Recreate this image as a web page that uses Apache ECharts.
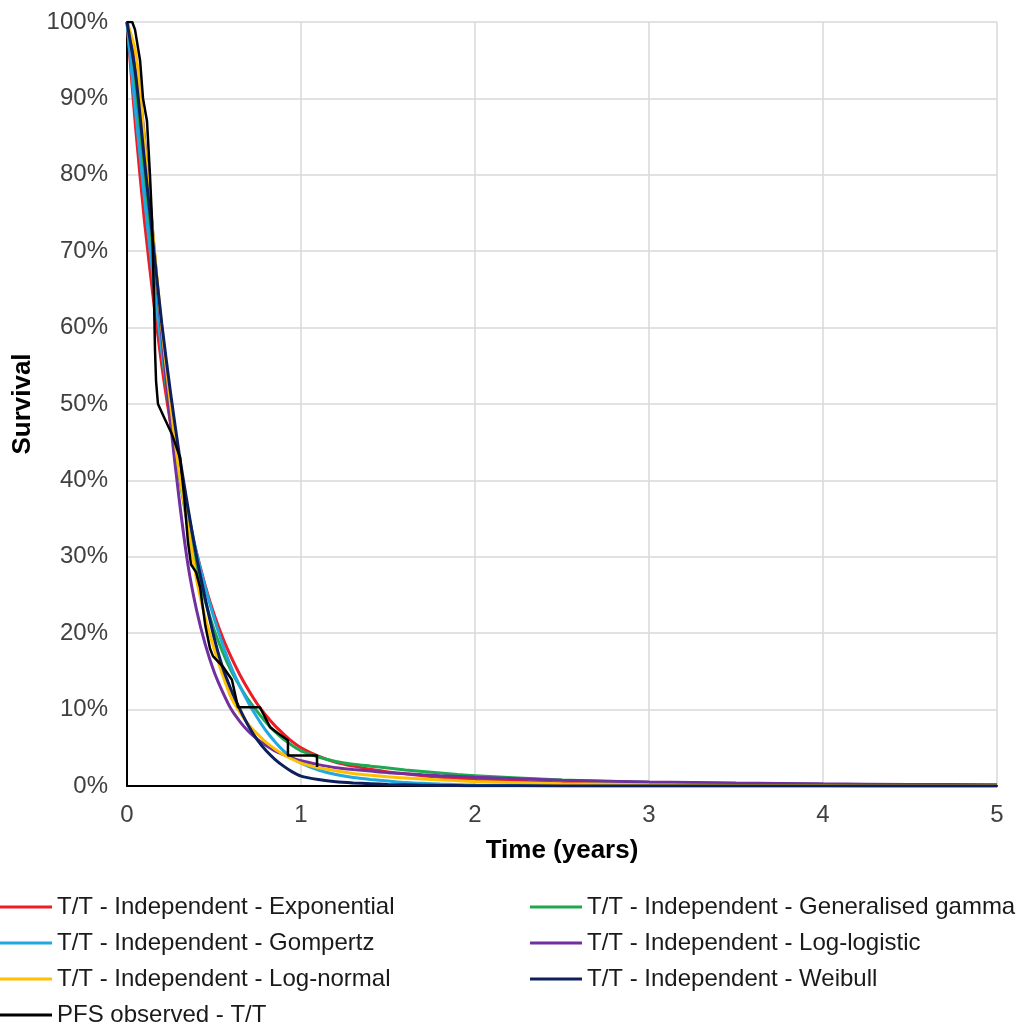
<!DOCTYPE html>
<html lang="en">
<head>
	<meta charset="UTF-8">
	<title>PFS survival curves - T/T</title>
	<style>
		html, body { margin: 0; padding: 0; background: #fff; }
	</style>
</head>
<body>
	<div id="main" style="width: 1021px;height: 1030px"></div>
	<script src="https://cdn.jsdelivr.net/npm/echarts@6/dist/echarts.min.js"></script>
	<script>
		// time grid (years) shared by the fitted curves
		var timeGrid = [0, 0.05, 0.1, 0.15, 0.2, 0.25, 0.3, 0.35, 0.4, 0.45, 0.5, 0.55, 0.6, 0.65, 0.7, 0.75, 0.8, 0.85, 0.9, 0.95, 1.0,
			1.1, 1.2, 1.3, 1.4, 1.5, 1.6, 1.7, 1.8, 1.9, 2.0, 2.5, 3.0, 3.5, 4.0, 4.5, 5.0];

		// survival (%)
		var exponential = [100, 86, 74, 64, 55, 47.5, 41, 35, 30.5, 26.2, 22.5, 19.4, 16.8, 14.5, 12.5, 10.7, 9.2, 7.9, 6.8, 5.8, 5.0,
			3.9, 3.1, 2.6, 2.2, 1.85, 1.6, 1.35, 1.15, 1.0, 0.85, 0.4, 0.2, 0.1, 0.05, 0.03, 0.02];
		var genGamma = [100, 91, 79, 67.5, 57, 48, 40.5, 34, 28.5, 24.2, 20.5, 17.5, 15, 13, 11.2, 9.7, 8.3, 7.1, 6.1, 5.3, 4.6,
			3.8, 3.2, 2.85, 2.6, 2.35, 2.1, 1.9, 1.7, 1.5, 1.35, 0.8, 0.5, 0.32, 0.2, 0.13, 0.09];
		var gompertz = [100, 88, 77, 66.5, 57, 49, 42, 36, 30.5, 26, 22, 18.5, 15.5, 13, 10.8, 8.9, 7.2, 5.8, 4.6, 3.7, 3.0,
			2.1, 1.5, 1.1, 0.85, 0.65, 0.45, 0.35, 0.25, 0.18, 0.12, 0.03, 0.01, 0, 0, 0, 0];
		var logLogistic = [100, 95, 85, 72, 59, 47.5, 37.5, 29, 23, 18.5, 15, 12.3, 10, 8.4, 7.1, 6.1, 5.3, 4.6, 4.1, 3.65, 3.3,
			2.8, 2.4, 2.15, 1.95, 1.75, 1.6, 1.47, 1.35, 1.25, 1.15, 0.75, 0.52, 0.38, 0.28, 0.21, 0.17];
		var logNormal = [100, 96, 84.5, 72, 60, 50, 41, 34, 27, 22, 18, 14.5, 11.5, 9.6, 8.0, 6.8, 5.7, 4.85, 4.1, 3.5, 3.0,
			2.4, 2.0, 1.65, 1.4, 1.2, 1.05, 0.9, 0.8, 0.7, 0.6, 0.3, 0.15, 0.08, 0.05, 0.03, 0.02];
		var weibull = [100, 93, 82, 71, 60.5, 51.5, 43.5, 36.5, 30, 24.5, 19.5, 15.5, 12.5, 10, 7.8, 6.0, 4.6, 3.5, 2.6, 1.85, 1.3,
			0.85, 0.55, 0.4, 0.3, 0.2, 0.15, 0.1, 0.08, 0.06, 0.04, 0.01, 0, 0, 0, 0, 0];

		// Kaplan-Meier observed
		var obsTime = [0, 0.03, 0.046, 0.075, 0.092, 0.115, 0.132, 0.144, 0.155, 0.161, 0.167, 0.178, 0.218, 0.259, 0.305, 0.328, 0.35, 0.368, 0.397, 0.42, 0.45, 0.477, 0.494, 0.552, 0.603, 0.638, 0.764, 0.822, 0.868, 0.925, 0.925, 1.092, 1.092];
		var obsSurv = [100, 100, 99, 95, 90, 87, 80, 74, 64, 57, 53, 50, 48, 46, 43, 38, 32, 29, 28, 26, 21, 18, 17, 15.6, 13.9, 10.3, 10.3, 7.7, 6.9, 6.0, 4.0, 4.0, 2.5];

		var seriesNames = [
			'T/T - Independent - Exponential',
			'T/T - Independent - Generalised gamma',
			'T/T - Independent - Gompertz',
			'T/T - Independent - Log-logistic',
			'T/T - Independent - Log-normal',
			'T/T - Independent - Weibull',
			'PFS observed - T/T'
		];
		var seriesColors = ['#ee1c25', '#1fa84f', '#20a8e0', '#7030a0', '#ffc000', '#0d1f5c', '#000000'];
		var modelValues = [exponential, genGamma, gompertz, logLogistic, logNormal, weibull];

		function pairs(xs, ys) {
			return xs.map(function (x, i) { return [x, ys[i]]; });
		}

		var series = modelValues.map(function (vals, i) {
			return {
				name: seriesNames[i],
				type: 'line',
				data: pairs(timeGrid, vals),
				showSymbol: false,
				symbol: 'none',
				smooth: 0.25,
				lineStyle: { width: 3, color: seriesColors[i] },
				itemStyle: { color: seriesColors[i] }
			};
		});
		series.push({
			name: seriesNames[6],
			type: 'line',
			data: pairs(obsTime, obsSurv),
			showSymbol: false,
			symbol: 'none',
			lineStyle: { width: 2.5, color: '#000' },
			itemStyle: { color: '#000' },
			z: 5
		});

		var font = 'Liberation Sans, Arial, sans-serif';
		var legendText = { fontFamily: font, fontSize: 24, color: '#1a1a1a', lineHeight: 26 };

		function legendBlock(left, names) {
			return {
				orient: 'vertical',
				left: left,
				top: 894,
				padding: 0,
				itemWidth: 52,
				itemHeight: 3,
				itemGap: 10,
				icon: 'rect',
				textStyle: legendText,
				data: names
			};
		}

		var myChart = echarts.init(document.getElementById('main'));
		var option = {
			animation: false,
			grid: { left: 127, right: 24, top: 22, bottom: 244, containLabel: false },
			legend: [
				legendBlock(0, [seriesNames[0], seriesNames[2], seriesNames[4], seriesNames[6]]),
				legendBlock(530, [seriesNames[1], seriesNames[3], seriesNames[5]])
			],
			xAxis: {
				type: 'value',
				min: 0,
				max: 5,
				interval: 1,
				name: 'Time (years)',
				nameLocation: 'middle',
				nameGap: 52,
				nameTextStyle: { fontFamily: font, fontSize: 26, fontWeight: 'bold', color: '#000' },
				axisLine: { onZero: false, lineStyle: { color: '#000', width: 2 } },
				axisTick: { show: false },
				axisLabel: { fontFamily: font, fontSize: 24, color: '#404040', margin: 17 },
				splitLine: { show: true, lineStyle: { color: '#d9d9d9', width: 1.5 } }
			},
			yAxis: {
				type: 'value',
				min: 0,
				max: 100,
				interval: 10,
				name: 'Survival',
				nameLocation: 'middle',
				nameGap: 90,
				nameTextStyle: { fontFamily: font, fontSize: 26, fontWeight: 'bold', color: '#000' },
				axisLine: { show: true, lineStyle: { color: '#000', width: 2 } },
				axisTick: { show: false },
				axisLabel: { fontFamily: font, fontSize: 24, color: '#404040', margin: 19, formatter: '{value}%' },
				splitLine: { show: true, lineStyle: { color: '#d9d9d9', width: 1.5 } }
			},
			series: series
		};

		myChart.setOption(option);
	</script>
</body>
</html>
